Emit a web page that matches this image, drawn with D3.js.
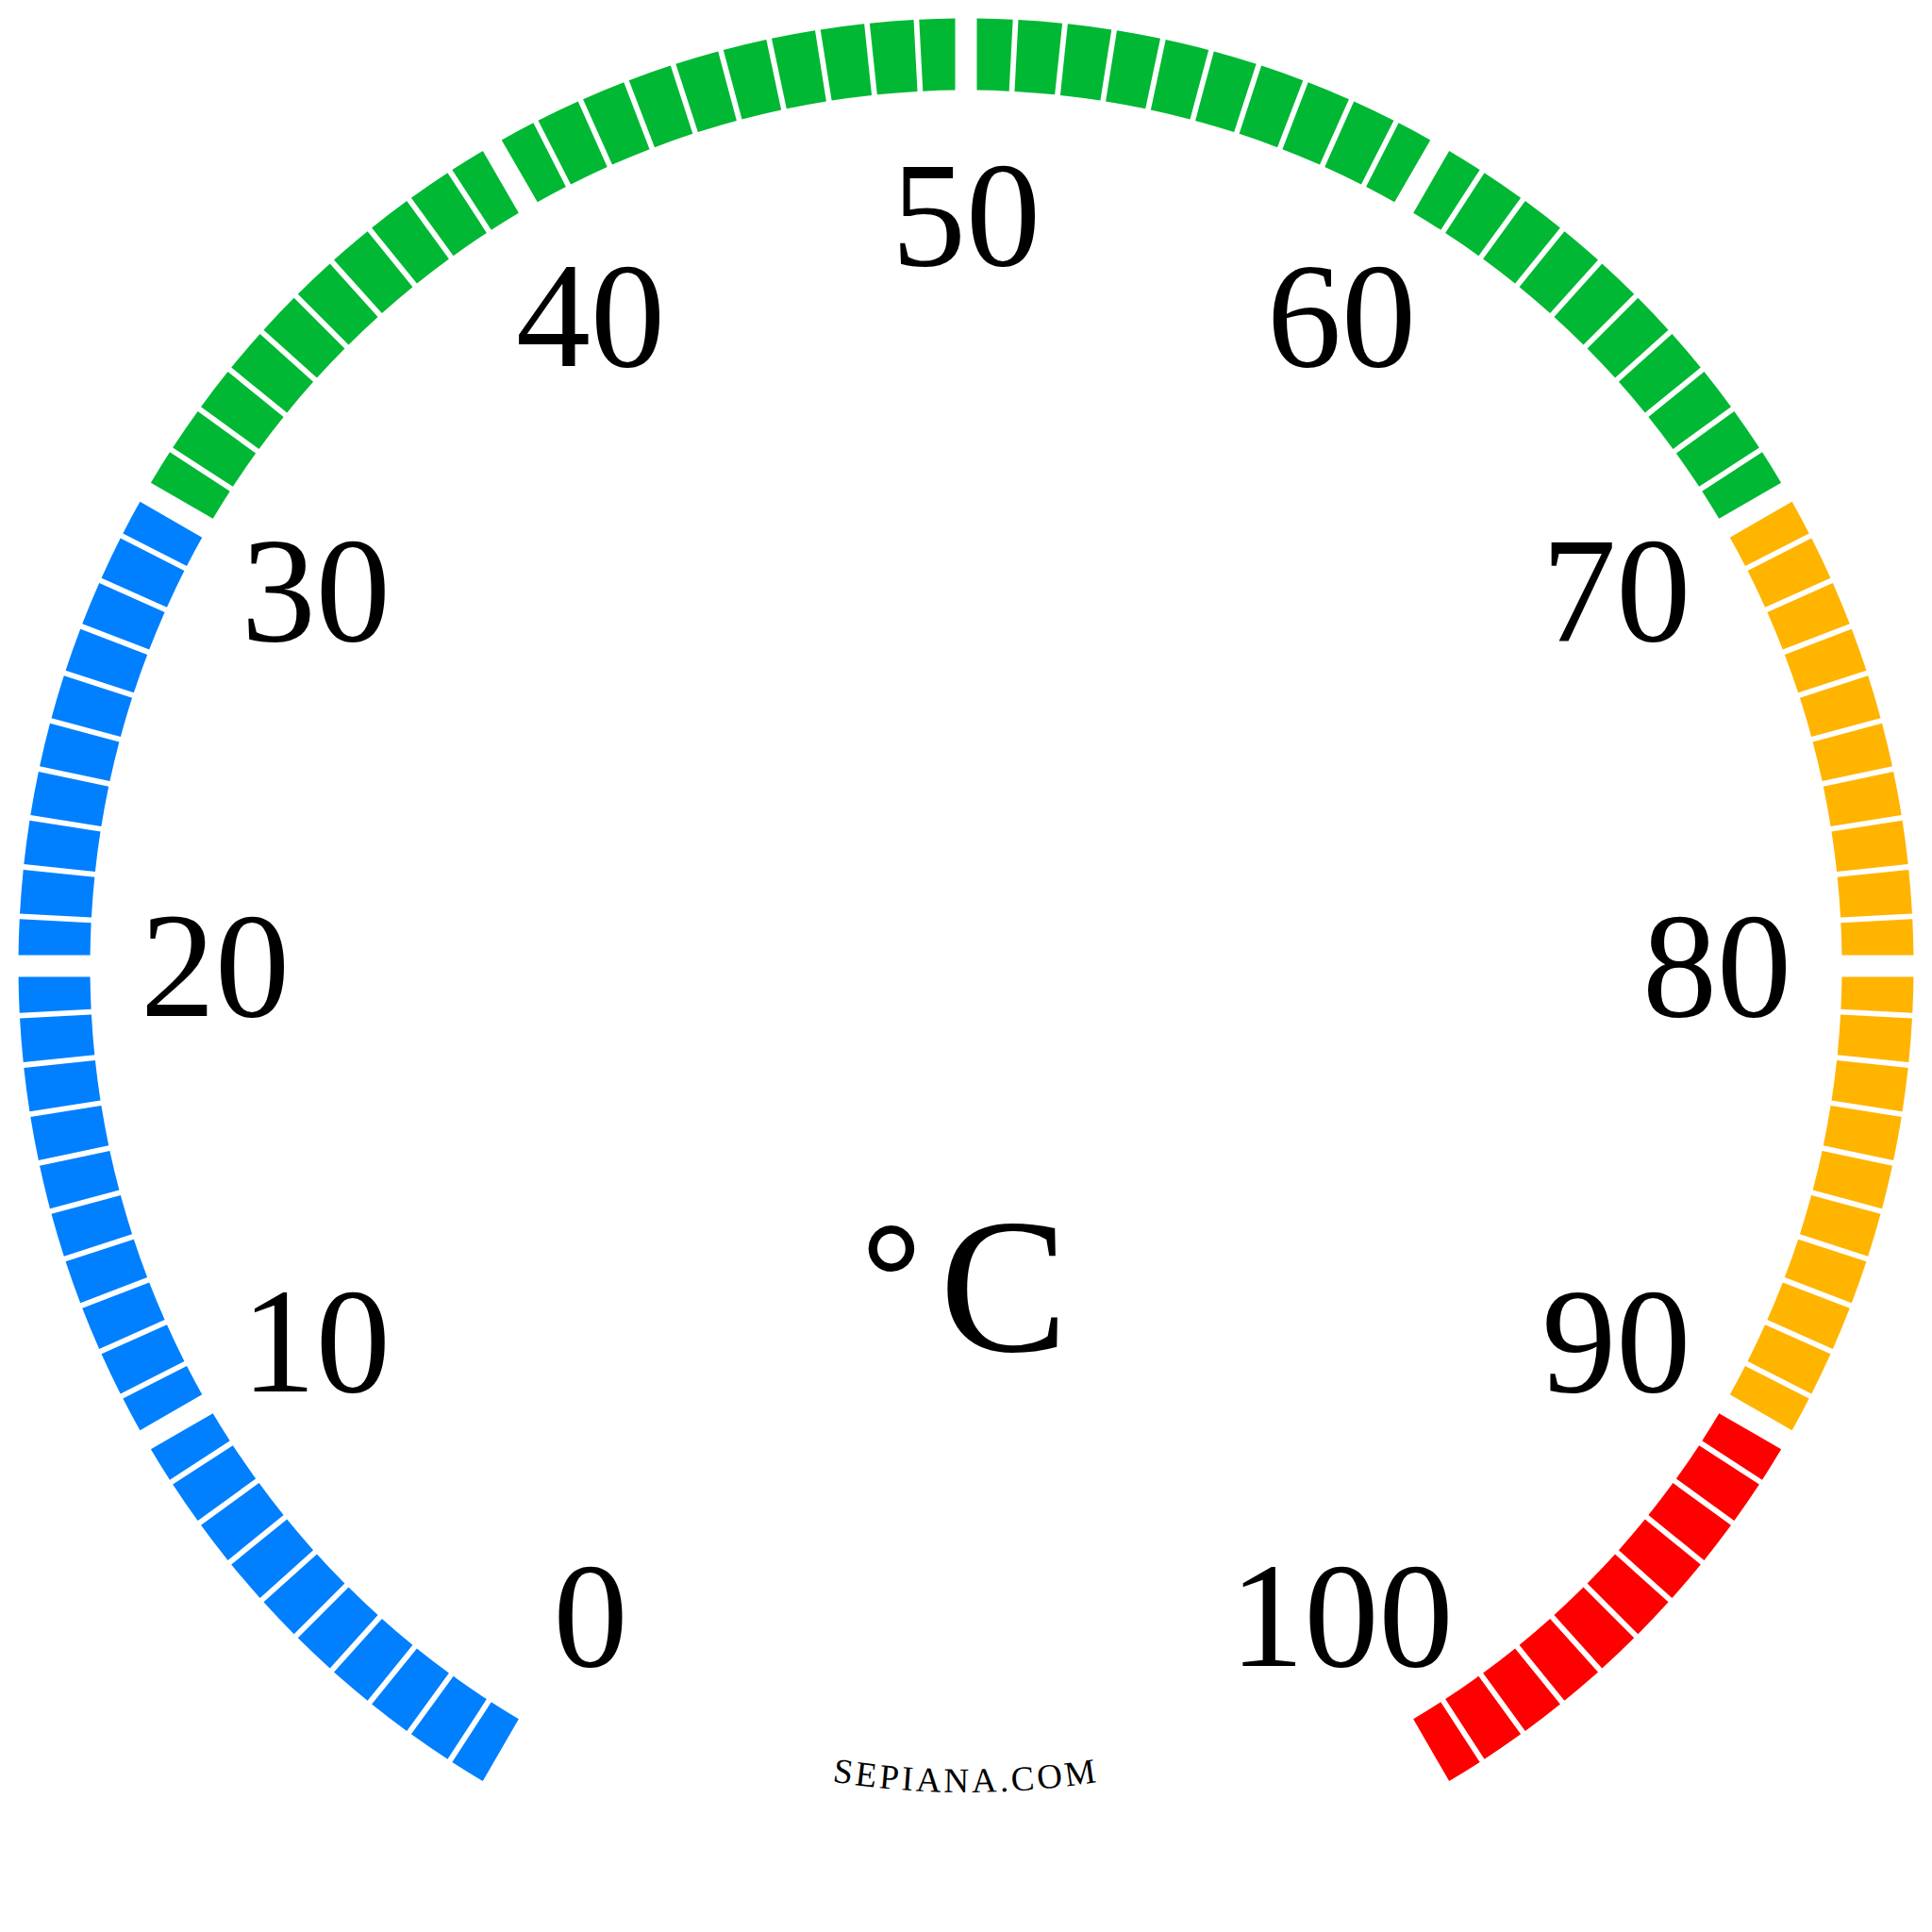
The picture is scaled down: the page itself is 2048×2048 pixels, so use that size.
<!DOCTYPE html>
<html>
<head>
<meta charset="utf-8">
<script src="https://cdn.jsdelivr.net/npm/d3@7"></script>
<style>
  html, body { margin: 0; padding: 0; background: #ffffff; }
  svg { display: block; }
</style>
</head>
<body>
<div id="chart"></div>
<script>
// ---- data ----
const tickValues = [0, 10, 20, 30, 40, 50, 60, 70, 80, 90, 100];
const tickLabels = ["0", "10", "20", "30", "40", "50", "60", "70", "80", "90", "100"];
const bandNames  = ["cold", "mild", "warm", "hot"];
const bandStarts = [0, 30, 70, 90];
const bandEnds   = [30, 70, 90, 100];
const bandColors = ["#0080ff", "#00b833", "#ffb400", "#ff0000"];
const unitLabel = "°C";
const unitDegree = "°";
const unitLetter = "C";
const creditText = "SEPIANA.COM";
const scaleMin = 0, scaleMax = 100, majorStep = 10;

// ---- layout ----
const W = 2048, H = 2048;
const cx = 1024, cy = 1024;
const rOuter = 1004.5, rInner = 928.5;
const smallGap = 5.8, bigGap = 23;
const labelRadius = 796;

const svg = d3.select("#chart").append("svg")
  .attr("width", W).attr("height", H)
  .attr("viewBox", `0 0 ${W} ${H}`);

svg.append("rect").attr("width", W).attr("height", H).attr("fill", "#ffffff");

const angle = d3.scaleLinear()
  .domain([scaleMin, scaleMax])
  .range([-150 * Math.PI / 180, 150 * Math.PI / 180]);

// segments: one per unit, grouped by band
const segments = [];
bandStarts.forEach((s, b) => {
  d3.range(s, bandEnds[b]).forEach(v => segments.push({ v, band: b }));
});

function segmentPath(d) {
  const a0 = angle(d.v), a1 = angle(d.v + 1);
  const h0 = (d.v % majorStep === 0) ? bigGap / 2 : smallGap / 2;
  const h1 = ((d.v + 1) % majorStep === 0) ? bigGap / 2 : smallGap / 2;
  const os = a0 + Math.asin(h0 / rOuter), oe = a1 - Math.asin(h1 / rOuter);
  const is = a0 + Math.asin(h0 / rInner), ie = a1 - Math.asin(h1 / rInner);
  const c = a => a - Math.PI / 2;
  const p = d3.path();
  p.moveTo(cx + rOuter * Math.cos(c(os)), cy + rOuter * Math.sin(c(os)));
  p.arc(cx, cy, rOuter, c(os), c(oe), false);
  p.lineTo(cx + rInner * Math.cos(c(ie)), cy + rInner * Math.sin(c(ie)));
  p.arc(cx, cy, rInner, c(ie), c(is), true);
  p.closePath();
  return p.toString();
}

svg.append("g").attr("class", "segments")
  .selectAll("path").data(segments).join("path")
  .attr("d", segmentPath)
  .attr("fill", d => bandColors[d.band]);

// tick labels
svg.append("g").attr("class", "labels")
  .selectAll("text").data(tickValues).join("text")
  .attr("x", v => cx + labelRadius * Math.sin(angle(v)))
  .attr("y", v => cy - labelRadius * Math.cos(angle(v)))
  .attr("dy", "0.335em")
  .attr("text-anchor", "middle")
  .attr("font-family", "'Liberation Serif', 'DejaVu Serif', serif")
  .attr("font-size", 158)
  .attr("fill", "#000")
  .text((v, i) => tickLabels[i]);

// unit
const unit = svg.append("g").attr("class", "unit").attr("aria-label", unitLabel);
unit.append("text")
  .attr("x", 945).attr("y", 1406)
  .attr("text-anchor", "middle")
  .attr("font-family", "'Liberation Serif', serif")
  .attr("font-weight", "bold")
  .attr("font-size", 160)
  .attr("fill", "#000")
  .text(unitDegree);
unit.append("text")
  .attr("x", 1064).attr("y", 1432)
  .attr("text-anchor", "middle")
  .attr("font-family", "'Liberation Serif', serif")
  .attr("font-size", 204)
  .attr("fill", "#000")
  .text(unitLetter);

// credit along an arc
const creditR = 876;
const delta = 40 * Math.PI / 180;
const arcP = d3.path();
arcP.moveTo(cx + creditR * Math.cos(Math.PI / 2 + delta), cy + creditR * Math.sin(Math.PI / 2 + delta));
arcP.arc(cx, cy, creditR, Math.PI / 2 + delta, Math.PI / 2 - delta, true);
svg.append("defs").append("path").attr("id", "creditArc").attr("d", arcP.toString());
svg.append("text")
  .attr("font-family", "'Liberation Serif', serif")
  .attr("font-size", 37)
  .attr("letter-spacing", 3.2)
  .attr("fill", "#000")
  .append("textPath")
  .attr("href", "#creditArc")
  .attr("startOffset", "50%")
  .attr("text-anchor", "middle")
  .text(creditText);
</script>
</body>
</html>
